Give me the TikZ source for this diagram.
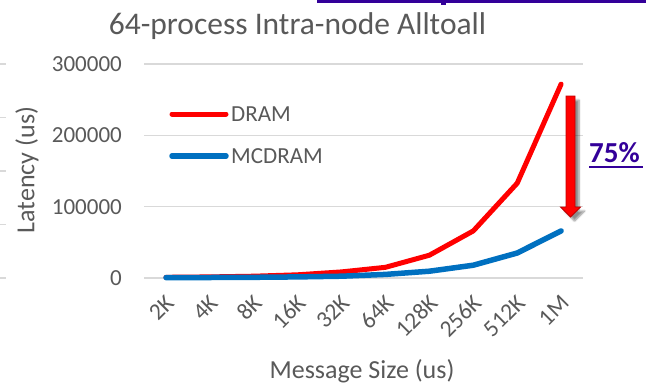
\documentclass[tikz,border=0pt]{standalone}
\usepackage{fontspec}
\setmainfont{Carlito}
\usetikzlibrary{shadows.blur}
\definecolor{txtgray}{HTML}{595959}
\definecolor{gridgray}{HTML}{D9D9D9}
\definecolor{dramred}{HTML}{FF0000}
\definecolor{mcblue}{HTML}{0070C0}
\definecolor{linkpurple}{HTML}{330099}
\definecolor{arrowedge}{HTML}{C00000}
\tikzset{
  gridline/.style={draw=gridgray, line width=1.2pt},
  ticklabel/.style={text=txtgray, font=\fontsize{23}{27}\selectfont, inner sep=0pt},
  xlabel/.style={text=txtgray, font=\fontsize{23.5}{27}\selectfont, inner sep=0pt, rotate=45, anchor=east},
  axistitle/.style={text=txtgray, font=\fontsize{26}{30}\selectfont, inner sep=0pt},
  series/.style={line width=5pt, line cap=round, line join=round},
  legendtext/.style={text=txtgray, font=\fontsize{23}{27}\selectfont, inner sep=0pt, anchor=west},
}
\begin{document}
\begin{tikzpicture}[x=1pt, y=-1pt]
\useasboundingbox (0,0) rectangle (646,384);

% underline bar of the link above the chart
\fill[linkpurple] (317,0) rectangle (646,3.2);
\fill[linkpurple] (441,0) rectangle (446,5);

% gridlines of the neighbouring chart on the far left
\foreach \yy in {64,117.5,171,224.5,278}
  \draw[gridline] (0,\yy) -- (6,\yy);

% chart title
\node[axistitle, font=\fontsize{31.5}{35}\selectfont] (title) at (297.5,26) {64-process Intra-node Alltoall};

% horizontal gridlines and value labels
\foreach \yy in {278,206.7,135.4,64} {
  \draw[gridline] (144,\yy) -- (583,\yy);
}
\node[ticklabel, anchor=east] (y0) at (122,278) {0};
\node[ticklabel, anchor=east] (y1) at (122,206.7) {100000};
\node[ticklabel, anchor=east] (y2) at (122,135.4) {200000};
\node[ticklabel, anchor=east] (y3) at (122,64) {300000};

% axis titles
\node[axistitle, rotate=90] (ytitle) at (27,170) {Latency (us)};
\node[axistitle] (xtitle) at (362,371) {Message Size (us)};

% category labels
\foreach \lab [count=\i from 0] in {2K,4K,8K,16K,32K,64K,128K,256K,512K,1M} {
  \node[xlabel] (x\i) at ({166+43.9*\i+4},299) {\lab};
}

% DRAM series
\draw[series, dramred]
  (166,277.3) -- (209.9,276.9) -- (253.8,276.2) -- (297.7,274.8) -- (341.6,271.9)
  -- (385.5,267.3) -- (429.4,255.2) -- (473.3,230.9) -- (517.2,183.2) -- (561.1,84.1);
% MCDRAM series
\draw[series, mcblue, line width=5.5pt]
  (166,277.6) -- (209.9,277.5) -- (253.8,277.3) -- (297.7,276.9) -- (341.6,276.2)
  -- (385.5,274.4) -- (429.4,271.2) -- (473.3,265.2) -- (517.2,253.0) -- (561.1,230.9);

% legend
\draw[series, dramred] (172,114) -- (226,114);
\node[legendtext] (legdram) at (231,114) {DRAM};
\draw[series, mcblue, line width=5.5pt] (172,156) -- (226,156);
\node[legendtext] (legmc) at (231,156) {MCDRAM};

% reduction arrow
\filldraw[fill=dramred, draw=arrowedge, line width=0.8pt,
  blur shadow={shadow xshift=4pt, shadow yshift=-4pt, shadow blur steps=6, shadow opacity=45}]
  (566,96) -- (575,96) -- (575,207) -- (580.5,207) -- (570.5,217) -- (560.5,207) -- (566,207) -- cycle;

% percentage label
\node[inner sep=0pt, anchor=base west, text=linkpurple, font=\bfseries\fontsize{29}{33}\selectfont] (pct) at (589,162) {75\%};
\draw[linkpurple, line width=2pt] (pct.base west) ++(0,5) -- ++(54,0);
\end{tikzpicture}
\end{document}
